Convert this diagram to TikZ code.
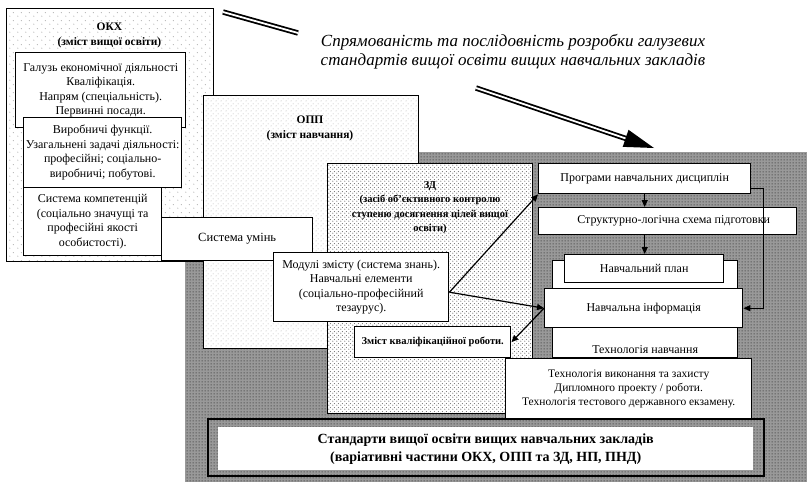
\documentclass[tikz,border=0pt]{standalone}
\usepackage{fontspec}
\setmainfont{Liberation Serif}
\usetikzlibrary{positioning,arrows.meta,patterns.meta}

\tikzdeclarepattern{name=sparsedots, type=uncolored,
  bottom left={(0pt,0pt)}, top right={(8pt,8pt)}, tile size={(8pt,8pt)},
  code={\fill (2pt,2pt) circle (0.6pt); \fill (6pt,6pt) circle (0.6pt);}}
\tikzdeclarepattern{name=finedots, type=uncolored,
  bottom left={(0pt,0pt)}, top right={(5pt,5pt)}, tile size={(5pt,5pt)},
  code={\fill (1.25pt,1.25pt) circle (0.55pt); \fill (3.75pt,3.75pt) circle (0.55pt);}}
\tikzdeclarepattern{name=zddots, type=uncolored,
  bottom left={(0pt,0pt)}, top right={(4pt,4pt)}, tile size={(4pt,4pt)},
  code={\fill (1pt,1pt) circle (0.7pt); \fill (3pt,3pt) circle (0.7pt);}}
\tikzdeclarepattern{name=greydots, type=uncolored,
  bottom left={(0pt,0pt)}, top right={(3pt,3pt)}, tile size={(3pt,3pt)},
  code={\fill (1.5pt,1.5pt) circle (0.8pt);}}

\begin{document}
\begin{tikzpicture}[x=1pt,y=-1pt,
  frame/.style={draw, line width=1.2pt, inner sep=0pt, anchor=north west},
  box/.style={draw, line width=1.4pt, fill=white, align=center, inner sep=1pt,
    anchor=north west, font=\fontsize{12}{14.5}\selectfont},
  head/.style={align=center, font=\bfseries\fontsize{11.5}{14.5}\selectfont},
  link/.style={line width=1.2pt, -{Triangle[length=7pt,width=6pt]}},
  bigshaft/.style={line width=1.8pt, double=white, double distance=1.8pt}]
\useasboundingbox (0,0) rectangle (807,482);

% shaded field
\node[anchor=north west, inner sep=0pt, minimum width=622, minimum height=330,
  preaction={fill=black!40}, pattern=greydots, pattern color=black!80] (field) at (185,152) {};

% OKX
\node[frame, preaction={fill=white}, pattern=sparsedots, pattern color=gray!70,
  minimum width=207, minimum height=253] (okx) at (6,8) {};
\node[head] (okxh) at (109.5,35.5) {ОКХ\\(зміст вищої освіти)};
\node[box, minimum width=170, minimum height=75] (galuz) at (15,52)
  {Галузь економічної діяльності\\Кваліфікація.\\Напрям (спеціальність).\\Первинні посади.};
\node[box, minimum width=158, minimum height=70] (vyrob) at (23,117)
  {Виробничі функції.\\Узагальнені задачі діяльності:\\професійні; соціально-\\виробничі; побутові.};
\node[box, minimum width=138, minimum height=68] (komp) at (23,187)
  {Система компетенцій\\(соціально значущі та\\професійні якості\\особистості).};

% OPP
\node[frame, preaction={fill=white}, pattern=finedots, pattern color=gray!75,
  minimum width=215, minimum height=253] (opp) at (203,95) {};
\node[head] (opph) at (310,128.5) {ОПП\\(зміст навчання)};

% ZD
\node[frame, preaction={fill=white}, pattern=zddots, pattern color=black!55,
  minimum width=205, minimum height=250] (zd) at (327,163) {};
\node[head, font=\bfseries\fontsize{10.5}{14.5}\selectfont] (zdh) at (430,207.5)
  {ЗД\\(засіб об'єктивного контролю\\ступеню досягнення цілей вищої\\освіти)};

\node[box, minimum width=151, minimum height=43, font=\fontsize{12.5}{14}\selectfont] (umin) at (161,217) {Система умінь};
\node[box, minimum width=175, minimum height=69] (modul) at (273,252)
  {Модулі змісту (система знань).\\Навчальні елементи\\(соціально-професійний\\тезаурус).};
\node[box, minimum width=156, minimum height=31, font=\bfseries\fontsize{10.5}{12}\selectfont] (kval) at (354,326)
  {Зміст кваліфікаційної роботи.};

% right column
\node[box, minimum width=212, minimum height=30] (prog) at (538,163) {Програми навчальних дисциплін};
\node[box, minimum width=258, minimum height=27] (sls) at (538,207) {\hspace{12pt}Структурно-логічна схема підготовки};
\node[box, minimum width=185, minimum height=97] (techbg) at (552,260) {};
\node[above=1pt of techbg.south, font=\fontsize{12}{14}\selectfont] (technav) {Технологія навчання};
\node[box, minimum width=159, minimum height=28] (plan) at (564,254) {Навчальний план};
\node[box, minimum width=198, minimum height=39] (info) at (544,288) {Навчальна інформація};
\node[box, minimum width=246, minimum height=61, font=\fontsize{11.5}{14}\selectfont] (vykon) at (505,358)
  {Технологія виконання та захисту\\Дипломного проекту / роботи.\\Технологія тестового державного екзамену.};

% standards
\node[frame, line width=2pt, minimum width=556, minimum height=57] (stdframe) at (207,418) {};
\node[anchor=north west, fill=white, inner sep=0pt, minimum width=535, minimum height=43, align=center,
  font=\bfseries\fontsize{14}{18}\selectfont] (std) at (218,427)
  {Стандарти вищої освіти вищих навчальних закладів\\(варіативні частини ОКХ, ОПП та ЗД, НП, ПНД)};

% title
\node[align=center, font=\itshape\fontsize{17}{19}\selectfont] (title) at (513,52)
  {Спрямованість та послідовність розробки галузевих\\стандартів вищої освіти вищих навчальних закладів};

% connectors
\coordinate (hub) at ([yshift=-5pt]modul.east);
\draw[link] (hub) -- (prog.south west);
\draw[link] (hub) -- (info.west);
\draw[link] (info.west) -- (kval.east);
\draw[link] (prog.south) -- (prog.south |- sls.north);
\draw[link] (prog.south |- sls.south) -- (prog.south |- plan.north);
\draw[link] ([yshift=-10pt]prog.east) -- ++(12,0) |- (info.east);

% double strokes
\coordinate (s1a) at (223,12);
\coordinate (s1b) at (298,33);
\draw[bigshaft] (s1a) -- (s1b);
\coordinate (s2a) at (476,88);
\coordinate (s2b) at (654,148);
\draw[bigshaft, shorten >=22pt] (s2a) -- (s2b);
\begin{scope}[shift={(s2b)}, rotate=-18.8]
  \fill (0,0) -- (-30,9) -- (-30,-9) -- cycle;
\end{scope}
\end{tikzpicture}
\end{document}
